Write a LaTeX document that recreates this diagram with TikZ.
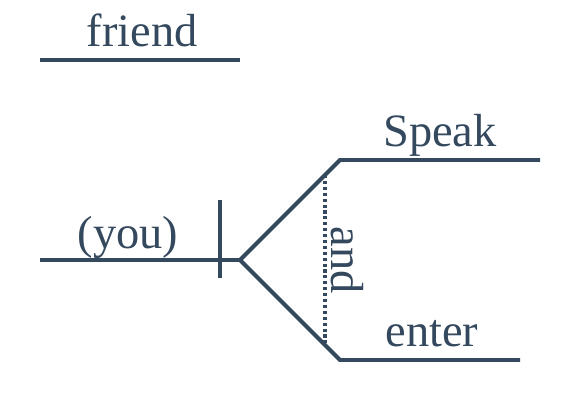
\documentclass[tikz,border=0pt]{standalone}
\usepackage{fontspec}
\setmainfont{Liberation Serif}
\usepackage{xcolor}
\usetikzlibrary{positioning}
\definecolor{slate}{HTML}{34495E}

\begin{document}
\begin{tikzpicture}[
        x=0.025cm, y=-0.025cm,
        rule/.style={draw=slate, line width=2.8pt},
        dots/.style={draw=slate, line width=2.2pt, dash pattern=on 2.2pt off 2pt},
        word/.style={text=slate, font=\fontsize{33}{40}\selectfont, anchor=base, inner sep=0pt},
    ]
        \useasboundingbox (0,0) rectangle (580,400);
        % base lines
        \coordinate (fl) at (40,60);   \coordinate (fr) at (240,60);
        \coordinate (sl) at (40,260);  \coordinate (fork) at (240,260);
        \coordinate (dt) at (220,200); \coordinate (db) at (220,278);
        \coordinate (ua) at (340,160); \coordinate (ub) at (540,160);
        \coordinate (la) at (340,360); \coordinate (lb) at (520,360);
        \coordinate (ct) at (325,175); \coordinate (cb) at (325,345);
        % words
        \node[word] (friend) at (142,47) {friend};
        \node[word] (you)    at (128,249) {(you)};
        \node[word] (speak)  at (440,147) {Speak};
        \node[word] (enter)  at (432,347) {enter};
        \node[text=slate, font=\fontsize{33}{40}\selectfont, rotate=-90, inner sep=0pt] (and) at (347,260) {and};
        % lines
        \draw[rule] (fl) -- (fr);
        \draw[rule] (sl) -- (fork);
        \draw[rule] (dt) -- (db);
        \draw[rule] (lb) -- (la) -- (fork) -- (ua) -- (ub);
        \draw[dots] (ct) -- (cb);
    \end{tikzpicture}
\end{document}
